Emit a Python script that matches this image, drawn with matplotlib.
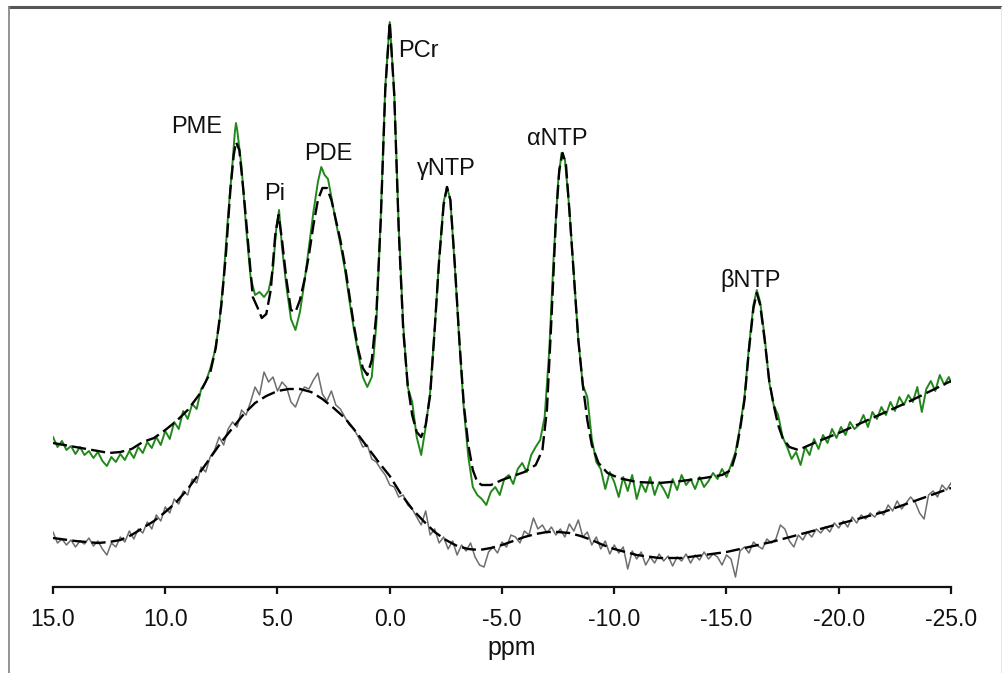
import matplotlib
matplotlib.use("Agg")
import matplotlib.pyplot as plt
from matplotlib.lines import Line2D

plt.rcParams['font.family'] = ['Liberation Sans', 'DejaVu Sans']

# ---------------- data (ppm, intensity in a.u.) ----------------
green_ppm = [15.0, 14.8, 14.6, 14.4, 14.2, 14.0, 13.8, 13.6, 13.4, 13.2, 13.0, 12.8, 12.6, 12.4, 12.2, 12.0,
             11.8, 11.6, 11.4, 11.2, 11.0, 10.8, 10.6, 10.4, 10.2, 10.0, 9.8, 9.6, 9.4, 9.2, 9.0, 8.8, 8.6,
             8.4, 8.2, 8.0, 7.8, 7.6, 7.4, 7.2, 7.0, 6.9, 6.85, 6.8, 6.6, 6.4, 6.2, 6.0, 5.8, 5.6, 5.4, 5.2,
             5.05, 4.93, 4.8, 4.6, 4.4, 4.2, 4.0, 3.8, 3.6, 3.4, 3.2, 3.05, 2.9, 2.75, 2.6, 2.4, 2.2, 2.0,
             1.8, 1.6, 1.4, 1.2, 1.0, 0.8, 0.6, 0.4, 0.2, 0.0, -0.2, -0.4, -0.6, -0.8, -1.0, -1.2, -1.4,
             -1.6, -1.8, -2.0, -2.2, -2.4, -2.55, -2.7, -2.9, -3.1, -3.3, -3.5, -3.7, -3.9, -4.1, -4.3,
             -4.5, -4.7, -4.9, -5.1, -5.3, -5.5, -5.7, -5.9, -6.1, -6.3, -6.5, -6.7, -6.9, -7.1, -7.3,
             -7.5, -7.65, -7.8, -8.0, -8.2, -8.4, -8.6, -8.8, -9.0, -9.2, -9.4, -9.6, -9.8, -10.0, -10.2,
             -10.4, -10.6, -10.8, -11.0, -11.2, -11.4, -11.6, -11.8, -12.0, -12.2, -12.4, -12.6, -12.8,
             -13.0, -13.2, -13.4, -13.6, -13.8, -14.0, -14.2, -14.4, -14.6, -14.8, -15.0, -15.2, -15.4,
             -15.6, -15.8, -16.0, -16.2, -16.35, -16.5, -16.7, -16.9, -17.1, -17.3, -17.5, -17.7, -17.9,
             -18.1, -18.3, -18.5, -18.7, -18.9, -19.1, -19.3, -19.5, -19.7, -19.9, -20.1, -20.3, -20.5,
             -20.7, -20.9, -21.1, -21.3, -21.5, -21.7, -21.9, -22.1, -22.3, -22.5, -22.7, -22.9, -23.1,
             -23.3, -23.5, -23.7, -23.9, -24.1, -24.3, -24.5, -24.7, -24.9, -25.0]
green_int = [150, 140, 146, 137, 141, 133, 140, 132, 136, 129, 135, 126, 121, 130, 125, 133,
             127, 136, 129, 140, 134, 145, 139, 150, 142, 156, 148, 165, 158, 176, 168, 183, 178,
             198, 205, 218, 235, 262, 310, 372, 425, 455, 464, 458, 420, 360, 310, 292, 295, 290, 296, 318,
             360, 377, 340, 300, 268, 257, 275, 305, 340, 375, 405, 420, 412, 408, 390, 365, 343, 318,
             287, 258, 233, 210, 200, 210, 262, 370, 500, 565, 495, 360, 262, 200, 185, 150, 132,
             160, 195, 258, 328, 385, 400, 387, 320, 245, 178, 130, 100, 92, 88, 82,
             95, 100, 92, 108, 112, 103, 118, 124, 115, 132, 140, 147, 170, 235, 330,
             405, 434, 428, 378, 312, 247, 202, 190, 148, 125, 118, 98, 115, 105, 90,
             110, 96, 112, 88, 104, 95, 110, 92, 105, 98, 89, 108, 97,
             112, 102, 108, 98, 110, 100, 106, 114, 108, 118, 110, 122, 135,
             160, 190, 240, 282, 297, 285, 250, 205, 182, 172, 150, 140, 128,
             135, 122, 140, 132, 148, 138, 152, 144, 158, 149, 160, 152, 165,
             158, 162, 172, 160, 175, 168, 180, 172, 185, 176, 190, 182, 192,
             185, 200, 175, 198, 206, 196, 212, 202, 210, 205]

green_fit_ppm = [15.0, 14.5, 14.0, 13.5, 13.0, 12.5, 12.0, 11.5, 11.0, 10.5, 10.0, 9.5, 9.0, 8.5, 8.0,
                 7.75, 7.5, 7.3, 7.1, 6.95, 6.85, 6.7, 6.5, 6.36, 6.1, 5.9, 5.7, 5.5, 5.3, 5.1, 4.95,
                 4.8, 4.6, 4.4, 4.2, 4.0, 3.8, 3.6, 3.4, 3.2, 3.0, 2.8, 2.6, 2.4, 2.2, 2.0, 1.8, 1.6,
                 1.4, 1.2, 1.0, 0.8, 0.6, 0.4, 0.2, 0.0, -0.2, -0.4, -0.6, -0.8, -1.0, -1.2, -1.4, -1.6,
                 -1.8, -2.0, -2.2, -2.4, -2.55, -2.7, -2.9, -3.1, -3.3, -3.5, -3.7, -3.9, -4.1, -4.5,
                 -5.0, -5.5, -6.0, -6.5, -6.8, -7.0, -7.2, -7.4, -7.55, -7.7, -7.85, -8.0, -8.2, -8.4,
                 -8.6, -8.8, -9.0, -9.3, -9.7, -10.2, -11.0, -12.0, -13.0, -14.0, -14.8, -15.2, -15.4,
                 -15.6, -15.8, -16.0, -16.2, -16.35, -16.5, -16.7, -16.9, -17.1, -17.3, -17.5, -17.8,
                 -18.2, -19.0, -20.0, -21.0, -22.0, -23.0, -24.0, -25.0]
green_fit_int = [144, 142, 140, 138, 136, 134, 135, 138, 145, 149, 157, 166, 177, 192, 214,
                 239, 282, 332, 397, 432, 445, 437, 392, 357, 290, 280, 269, 273, 297, 352, 372,
                 347, 307, 277, 275, 287, 307, 332, 362, 387, 399, 399, 387, 367, 347, 322, 292, 262,
                 237, 219, 212, 227, 272, 367, 497, 565, 492, 357, 257, 202, 172, 155, 150, 162,
                 192, 257, 327, 382, 400, 387, 322, 247, 182, 142, 117, 105, 102, 102,
                 107, 111, 115, 122, 137, 177, 267, 367, 417, 434, 422, 377, 312, 247,
                 202, 167, 142, 124, 114, 109, 105, 104, 106, 109, 112, 117, 132,
                 157, 187, 237, 279, 294, 282, 247, 207, 182, 162, 149, 140,
                 137, 145, 154, 164, 174, 184, 195, 206]

gray_ppm = [15.0, 14.8, 14.6, 14.4, 14.2, 14.0, 13.8, 13.6, 13.4, 13.2, 13.0, 12.8, 12.6, 12.4, 12.2, 12.0,
            11.8, 11.6, 11.4, 11.2, 11.0, 10.8, 10.6, 10.4, 10.2, 10.0, 9.8, 9.6, 9.4, 9.2, 9.0, 8.8, 8.6,
            8.4, 8.2, 8.0, 7.8, 7.6, 7.4, 7.2, 7.0, 6.8, 6.6, 6.4, 6.2, 6.0, 5.8, 5.6, 5.4, 5.2, 5.0, 4.8,
            4.6, 4.4, 4.2, 4.0, 3.8, 3.6, 3.4, 3.2, 3.0, 2.8, 2.6, 2.4, 2.2, 2.0, 1.8, 1.6, 1.4, 1.2, 1.0,
            0.8, 0.6, 0.4, 0.2, 0.0, -0.2, -0.4, -0.6, -0.8, -1.0, -1.2, -1.4, -1.6, -1.8, -2.0, -2.2,
            -2.4, -2.6, -2.8, -3.0, -3.2, -3.4, -3.6, -3.8, -4.0, -4.2, -4.4, -4.6, -4.8, -5.0, -5.2,
            -5.4, -5.6, -5.8, -6.0, -6.2, -6.4, -6.6, -6.8, -7.0, -7.2, -7.4, -7.6, -7.8, -8.0, -8.2,
            -8.4, -8.6, -8.8, -9.0, -9.2, -9.4, -9.6, -9.8, -10.0, -10.2, -10.4, -10.6, -10.8, -11.0,
            -11.2, -11.4, -11.6, -11.8, -12.0, -12.2, -12.4, -12.6, -12.8, -13.0, -13.2, -13.4, -13.6,
            -13.8, -14.0, -14.2, -14.4, -14.6, -14.8, -15.0, -15.2, -15.4, -15.6, -15.8, -16.0, -16.2,
            -16.4, -16.6, -16.8, -17.0, -17.2, -17.4, -17.6, -17.8, -18.0, -18.2, -18.4, -18.6, -18.8,
            -19.0, -19.2, -19.4, -19.6, -19.8, -20.0, -20.2, -20.4, -20.6, -20.8, -21.0, -21.2, -21.4,
            -21.6, -21.8, -22.0, -22.2, -22.4, -22.6, -22.8, -23.0, -23.2, -23.4, -23.6, -23.8, -24.0,
            -24.2, -24.4, -24.6, -24.8, -25.0]
gray_int = [55, 44, 48, 42, 47, 40, 46, 43, 49, 41, 46, 38, 32, 44, 40, 50,
            45, 56, 48, 58, 54, 65, 58, 72, 66, 80, 74, 88, 83, 96, 92, 108, 104,
            120, 115, 130, 137, 150, 142, 158, 165, 160, 177, 172, 185, 200, 192, 215, 205, 210, 196, 205,
            200, 185, 180, 192, 200, 198, 207, 214, 193, 186, 196, 182, 178, 170, 162, 158, 150, 140, 142,
            128, 125, 118, 112, 102, 100, 90, 92, 82, 78, 70, 62, 76, 52, 58, 44,
            50, 38, 46, 32, 42, 36, 44, 30, 22, 20, 35, 40, 34, 45, 40,
            52, 50, 44, 56, 52, 69, 58, 62, 54, 60, 52, 58, 50, 63, 56,
            67, 50, 55, 42, 50, 38, 46, 33, 42, 34, 40, 18, 36, 28,
            35, 22, 30, 24, 33, 26, 31, 21, 30, 26, 33, 24, 32,
            27, 35, 28, 33, 30, 22, 32, 28, 10, 36, 40, 34, 45,
            41, 38, 48, 44, 48, 62, 58, 46, 40, 52, 47, 55, 50,
            58, 54, 60, 55, 64, 59, 66, 60, 70, 64, 72, 68, 74,
            70, 76, 72, 82, 76, 86, 78, 84, 90, 85, 74, 68, 92,
            96, 90, 102, 97, 104]

gray_fit_ppm = [15.0, 14.0, 13.0, 12.5, 12.0, 11.5, 11.0, 10.5, 10.0, 9.5, 9.0, 8.5, 8.0, 7.5, 7.0, 6.5,
                6.0, 5.5, 5.0, 4.5, 4.0, 3.5, 3.0, 2.5, 2.0, 1.5, 1.0, 0.5, 0.0, -0.5, -1.0, -1.5, -2.0,
                -2.5, -3.0, -3.5, -4.0, -4.5, -5.0, -5.5, -6.0, -6.5, -7.0, -7.5, -8.0, -8.5, -9.0, -9.5,
                -10.0, -11.0, -12.0, -13.0, -14.0, -15.0, -16.0, -17.0, -18.0, -19.0, -20.0, -21.0,
                -22.0, -23.0, -24.0, -25.0]
gray_fit_int = [49, 46, 44, 45, 47, 52, 59, 66, 75, 85, 98, 113, 129, 145, 159, 173,
                184, 191, 196, 198, 198, 195, 188, 179, 169, 155, 140, 125, 111, 93, 78, 66, 55,
                47, 41, 38, 37, 39, 42, 46, 50, 53, 55, 55, 54, 51, 47, 42,
                38, 32, 29, 29, 32, 35, 40, 45, 51, 57, 63, 69,
                75, 83, 91, 99]

peak_labels = ['PME', 'Pi', 'PDE', 'PCr', 'γNTP', 'αNTP', 'βNTP']
label_ppm = [8.59, 5.11, 2.75, -1.26, -2.51, -7.45, -16.05]
label_int = [454, 387, 427, 530, 412, 442, 300]

xticks = [15.0, 10.0, 5.0, 0.0, -5.0, -10.0, -15.0, -20.0, -25.0]

# ---------------- figure ----------------
W, H = 1003, 673
fig = plt.figure(figsize=(W / 100, H / 100), dpi=100)
ax = fig.add_axes([53 / W, (H - 587) / H, (951 - 53) / W, (587 - 7) / H])

GREEN = '#22881c'
ax.plot(gray_ppm, gray_int, color='#6e6e6e', lw=1.1, zorder=2)
ax.plot(green_ppm, green_int, color=GREEN, lw=1.4, zorder=2)
ax.plot(gray_fit_ppm, gray_fit_int, color='black', lw=1.7, dashes=(6, 2.2), zorder=3)
ax.plot(green_fit_ppm, green_fit_int, color='black', lw=1.7, dashes=(6, 2.2), zorder=3)

for t, px, iy in zip(peak_labels, label_ppm, label_int):
    ax.text(px, iy, t, ha='center', va='baseline', fontsize=17, color='#111111')

ax.set_xlim(15.0, -25.0)
ax.set_ylim(0, 580)
ax.set_xticks(xticks)
ax.set_xticklabels([f'{v:.1f}' for v in xticks], fontsize=16.5)
ax.tick_params(axis='x', length=5, width=1.6, pad=10, colors='#111111')
ax.set_yticks([])
for s in ['top', 'right', 'left']:
    ax.spines[s].set_visible(False)
ax.spines['bottom'].set_linewidth(1.6)
ax.spines['bottom'].set_color('#111111')
ax.patch.set_alpha(0)

fig.text(512 / W, 1 - 648 / H, 'ppm', ha='center', va='center', fontsize=18, color='#111111')

# outer frame of the figure image
fig.add_artist(Line2D([9 / W, 1.0], [1 - 6.5 / H, 1 - 6.5 / H], transform=fig.transFigure,
                      color='#555555', lw=2.2))
fig.add_artist(Line2D([9 / W, 9 / W], [0, 1 - 6.5 / H], transform=fig.transFigure,
                      color='#8a8a8a', lw=1.3))
fig.add_artist(Line2D([1001.5 / W, 1001.5 / W], [0, 1 - 6.5 / H], transform=fig.transFigure,
                      color='#e6e6e6', lw=0.8))

fig.savefig('out.png', dpi=100)
